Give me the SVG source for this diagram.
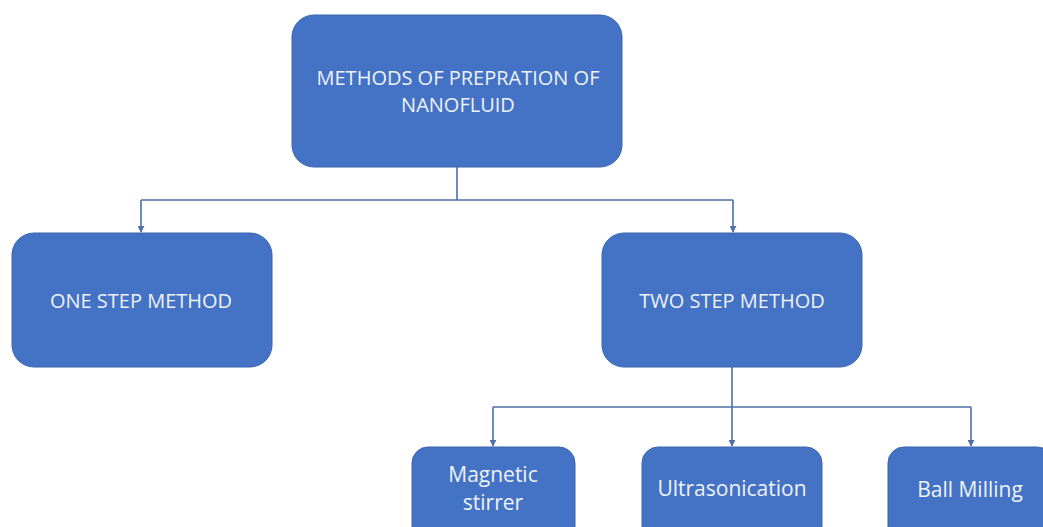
<svg xmlns="http://www.w3.org/2000/svg" width="1043" height="527" viewBox="0 0 1043 527">
<style>
.box{fill:#4472c4;stroke:#3a64ad;stroke-width:1}
.t{font-family:"Open Sans","Noto Sans",sans-serif;font-size:20px;fill:#eef2fa;text-anchor:middle}
.s{font-size:21px}
.c{fill:none;stroke:#4e6fa8;stroke-width:1.6}
</style>
<defs>
<marker id="ah" viewBox="0 0 10 10" refX="9" refY="5" markerWidth="7" markerHeight="7" orient="auto" markerUnits="userSpaceOnUse">
<path d="M0,0 L10,5 L0,10 z" fill="#4e6fa8"/>
</marker>
</defs>
<rect width="1043" height="527" fill="#ffffff"/>
<g id="connectors">
<path class="c" d="M457,167 V200"/>
<path class="c" d="M141,200 H733"/>
<path class="c" d="M141,200 V232" marker-end="url(#ah)"/>
<path class="c" d="M733,200 V232" marker-end="url(#ah)"/>
<path class="c" d="M732,367 V446" marker-end="url(#ah)"/>
<path class="c" d="M493,407 H971"/>
<path class="c" d="M493,407 V446" marker-end="url(#ah)"/>
<path class="c" d="M971,407 V446" marker-end="url(#ah)"/>
</g>
<g id="root">
<rect class="box" x="292" y="15" width="330" height="152" rx="22"/>
<text class="t" x="458" y="85">METHODS OF PREPRATION OF</text>
<text class="t" x="458" y="112">NANOFLUID</text>
</g>
<g id="one-step">
<rect class="box" x="12" y="233" width="260" height="134" rx="22"/>
<text class="t" x="141" y="308">ONE STEP METHOD</text>
</g>
<g id="two-step">
<rect class="box" x="602" y="233" width="260" height="134" rx="22"/>
<text class="t" x="732" y="308">TWO STEP METHOD</text>
</g>
<g id="magnetic">
<rect class="box" x="412" y="447" width="163" height="100" rx="16"/>
<text class="t s" x="493" y="482">Magnetic</text>
<text class="t s" x="493" y="510">stirrer</text>
</g>
<g id="ultrasonication">
<rect class="box" x="642" y="447" width="180" height="100" rx="16"/>
<text class="t s" x="732" y="496">Ultrasonication</text>
</g>
<g id="ball-milling">
<rect class="box" x="888" y="447" width="165" height="100" rx="16"/>
<text class="t s" x="970" y="497">Ball Milling</text>
</g>
</svg>
